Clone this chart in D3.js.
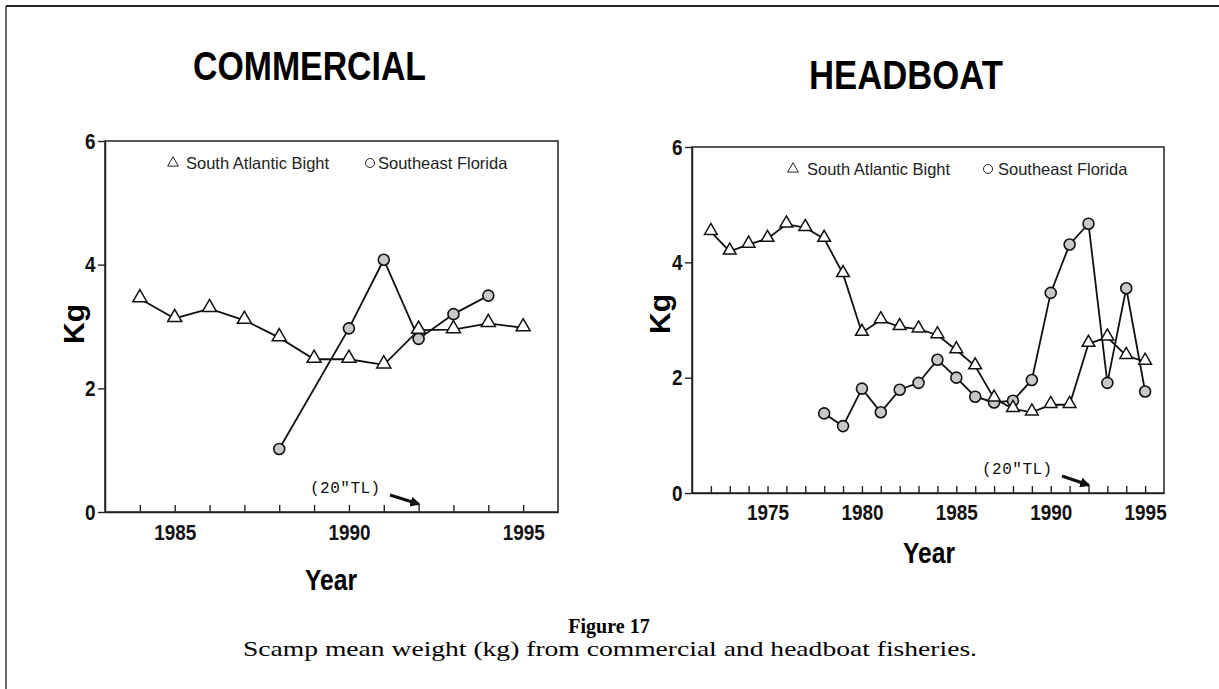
<!DOCTYPE html>
<html>
<head>
<meta charset="utf-8">
<script src="https://cdn.jsdelivr.net/npm/d3@7"></script>
<style>
  body { margin: 0; background: #fff; }
  svg { display: block; }
  .tick text { font-family: "Liberation Sans", Arial, sans-serif; font-weight: bold; font-size: 22px; fill: #111; }
  .tick line { stroke: #222; stroke-width: 1.4; }
</style>
</head>
<body>
<svg id="chart" width="1219" height="689"></svg>
<script>
// ---- data ----
var comYears = [1984, 1985, 1986, 1987, 1988, 1989, 1990, 1991, 1992, 1993, 1994, 1995];
var comSAB = [3.45, 3.13, 3.29, 3.1, 2.82, 2.47, 2.47, 2.38, 2.94, 2.95, 3.05, 2.98];
var comSEFYears = [1988, 1990, 1991, 1992, 1993, 1994];
var comSEF = [1.02, 2.97, 4.08, 2.8, 3.2, 3.5];

var hbYears = [1972, 1973, 1974, 1975, 1976, 1977, 1978, 1979, 1980, 1981, 1982, 1983,
  1984, 1985, 1986, 1987, 1988, 1989, 1990, 1991, 1992, 1993, 1994, 1995];
var hbSAB = [4.53, 4.19, 4.31, 4.41, 4.66, 4.6, 4.41, 3.8, 2.78, 3.0, 2.88, 2.84,
  2.74, 2.48, 2.2, 1.64, 1.46, 1.4, 1.53, 1.53, 2.59, 2.7, 2.38, 2.28];
var hbSEFYears = [1978, 1979, 1980, 1981, 1982, 1983, 1984, 1985, 1986, 1987, 1988,
  1989, 1990, 1991, 1992, 1993, 1994, 1995];
var hbSEF = [1.38, 1.16, 1.81, 1.4, 1.79, 1.91, 2.31, 2.0, 1.67, 1.57, 1.6, 1.96,
  3.47, 4.31, 4.67, 1.91, 3.55, 1.76];

var yTicks = [0, 2, 4, 6];
var legendLabels = ["South Atlantic Bight", "Southeast Florida"];
var sansFont = '"Liberation Sans", Arial, sans-serif';

var svg = d3.select("#chart");

// outer frame of the figure page
svg.append("line").attr("x1", 6).attr("y1", 6).attr("x2", 1219).attr("y2", 6)
  .attr("stroke", "#222").attr("stroke-width", 2);
svg.append("line").attr("x1", 6).attr("y1", 6).attr("x2", 6).attr("y2", 689)
  .attr("stroke", "#333").attr("stroke-width", 1.5);

// arrow head for the (20"TL) note
svg.append("defs").append("marker")
  .attr("id", "arrow")
  .attr("viewBox", "0 0 10 10")
  .attr("refX", 8).attr("refY", 5)
  .attr("markerWidth", 3.2).attr("markerHeight", 3.2)
  .attr("orient", "auto")
  .append("path").attr("d", "M0,0 L10,5 L0,10 z").attr("fill", "#111");

function drawPanel(cfg) {
  var x = d3.scaleLinear().domain(cfg.xDomain).range([cfg.left, cfg.right]);
  var y = d3.scaleLinear().domain([0, 6]).range([cfg.bottom, cfg.top]);
  var g = svg.append("g");

  // box
  g.append("rect")
    .attr("x", cfg.left).attr("y", cfg.top)
    .attr("width", cfg.right - cfg.left).attr("height", cfg.bottom - cfg.top)
    .attr("fill", "none").attr("stroke", "#222").attr("stroke-width", 1.5);

  // x axis, ticks point inward
  var xAxis = d3.axisBottom(x)
    .tickValues(d3.range(cfg.xDomain[0] + 1, cfg.xDomain[1]))
    .tickFormat(function (d) { return d % 5 === 0 ? d : ""; })
    .tickSize(-7).tickSizeOuter(0).tickPadding(cfg.xPad);
  var xg = g.append("g")
    .attr("transform", "translate(0," + cfg.bottom + ")")
    .call(xAxis);
  xg.select(".domain").attr("stroke", "#222").attr("stroke-width", 1.5);
  xg.selectAll(".tick text").attr("transform", "scale(0.86,1)");

  var yAxis = d3.axisLeft(y).tickValues(yTicks).tickFormat(d3.format("d"))
    .tickSize(7).tickSizeOuter(0).tickPadding(4);
  var yg = g.append("g")
    .attr("transform", "translate(" + cfg.left + ",0)")
    .call(yAxis);
  yg.select(".domain").attr("stroke", "#222").attr("stroke-width", 1.5);
  yg.selectAll(".tick text").attr("transform", "scale(0.86,1)");

  // titles
  svg.append("text")
    .attr("x", cfg.titleX).attr("y", cfg.titleY)
    .attr("textLength", cfg.titleW).attr("lengthAdjust", "spacingAndGlyphs")
    .style("font-family", sansFont).style("font-weight", "bold").style("font-size", "40px")
    .text(cfg.title);

  svg.append("text")
    .attr("x", cfg.yearX).attr("y", cfg.yearY)
    .attr("textLength", 52).attr("lengthAdjust", "spacingAndGlyphs")
    .style("font-family", sansFont).style("font-weight", "bold").style("font-size", "30px")
    .text("Year");

  svg.append("text")
    .attr("transform", "translate(" + cfg.kgX + "," + cfg.kgY + ") rotate(-90)")
    .attr("text-anchor", "middle")
    .style("font-family", sansFont).style("font-weight", "bold").style("font-size", "30px")
    .text("Kg");

  // lines
  var line = d3.line()
    .x(function (d) { return x(d[0]); })
    .y(function (d) { return y(d[1]); });

  var sab = cfg.sabYears.map(function (yr, i) { return [yr, cfg.sab[i]]; });
  var sef = cfg.sefYears.map(function (yr, i) { return [yr, cfg.sef[i]]; });

  g.append("path").datum(sef).attr("d", line)
    .attr("fill", "none").attr("stroke", "#111").attr("stroke-width", 1.8);
  g.append("path").datum(sab).attr("d", line)
    .attr("fill", "none").attr("stroke", "#111").attr("stroke-width", 1.8);

  var tri = d3.symbol().type(d3.symbolTriangle).size(cfg.triSize);

  g.selectAll(".sef").data(sef).enter().append("circle")
    .attr("cx", function (d) { return x(d[0]); })
    .attr("cy", function (d) { return y(d[1]); })
    .attr("r", 5.5)
    .attr("fill", "#c8c8c8").attr("stroke", "#111").attr("stroke-width", 1.6);

  g.selectAll(".sab").data(sab).enter().append("path")
    .attr("d", tri)
    .attr("transform", function (d) { return "translate(" + x(d[0]) + "," + (y(d[1]) - 1) + ")"; })
    .attr("fill", "#fff").attr("stroke", "#111").attr("stroke-width", 1.5);

  // legend
  var lg = g.append("g");
  lg.append("path")
    .attr("d", d3.symbol().type(d3.symbolTriangle).size(50))
    .attr("transform", "translate(" + cfg.legX[0] + "," + (cfg.legY - 6) + ")")
    .attr("fill", "none").attr("stroke", "#222").attr("stroke-width", 1);
  lg.append("circle")
    .attr("cx", cfg.legX[2]).attr("cy", cfg.legY - 6).attr("r", 4.5)
    .attr("fill", "none").attr("stroke", "#222").attr("stroke-width", 1);
  lg.append("text").attr("x", cfg.legX[1]).attr("y", cfg.legY)
    .style("font-family", sansFont).style("font-size", "16.5px").attr("fill", "#222")
    .text(legendLabels[0]);
  lg.append("text").attr("x", cfg.legX[3]).attr("y", cfg.legY)
    .style("font-family", sansFont).style("font-size", "16.5px").attr("fill", "#222")
    .text(legendLabels[1]);

  // 20 inch TL note
  g.append("text")
    .attr("x", cfg.noteX).attr("y", cfg.noteY)
    .style("font-family", '"Liberation Mono", "DejaVu Sans Mono", monospace')
    .style("font-size", "16px").style("letter-spacing", "0.5px").attr("fill", "#111")
    .text('(20"TL)');
  g.append("line")
    .attr("x1", cfg.noteX + 80).attr("y1", cfg.noteY + 2)
    .attr("x2", x(1992)).attr("y2", cfg.bottom - 8)
    .attr("stroke", "#111").attr("stroke-width", 3.2)
    .attr("marker-end", "url(#arrow)");
}

drawPanel({
  title: "COMMERCIAL", titleX: 193, titleY: 80, titleW: 233,
  xDomain: [1983, 1996], left: 105, right: 558, top: 141, bottom: 512,
  xPad: 12, yearX: 305, yearY: 590, kgX: 84, kgY: 324,
  sabYears: comYears, sab: comSAB, sefYears: comSEFYears, sef: comSEF,
  triSize: 85,
  legX: [173, 186, 370, 378], legY: 169,
  noteX: 310, noteY: 493
});

drawPanel({
  title: "HEADBOAT", titleX: 809, titleY: 89, titleW: 194,
  xDomain: [1971, 1996], left: 692, right: 1164, top: 147, bottom: 493,
  xPad: 11, yearX: 903, yearY: 563, kgX: 670, kgY: 314,
  sabYears: hbYears, sab: hbSAB, sefYears: hbSEFYears, sef: hbSEF,
  triSize: 70,
  legX: [793, 807, 988, 998], legY: 175,
  noteX: 982, noteY: 474
});

// caption
svg.append("text")
  .attr("x", 609).attr("y", 633).attr("text-anchor", "middle")
  .style("font-family", '"Liberation Serif", "Times New Roman", serif')
  .style("font-weight", "bold").style("font-size", "20px")
  .text("Figure 17");
svg.append("text")
  .attr("x", 243).attr("y", 656)
  .attr("textLength", 734).attr("lengthAdjust", "spacingAndGlyphs")
  .style("font-family", '"Liberation Serif", "Times New Roman", serif')
  .style("font-size", "21px")
  .text("Scamp mean weight (kg) from commercial and headboat fisheries.");
</script>
</body>
</html>
